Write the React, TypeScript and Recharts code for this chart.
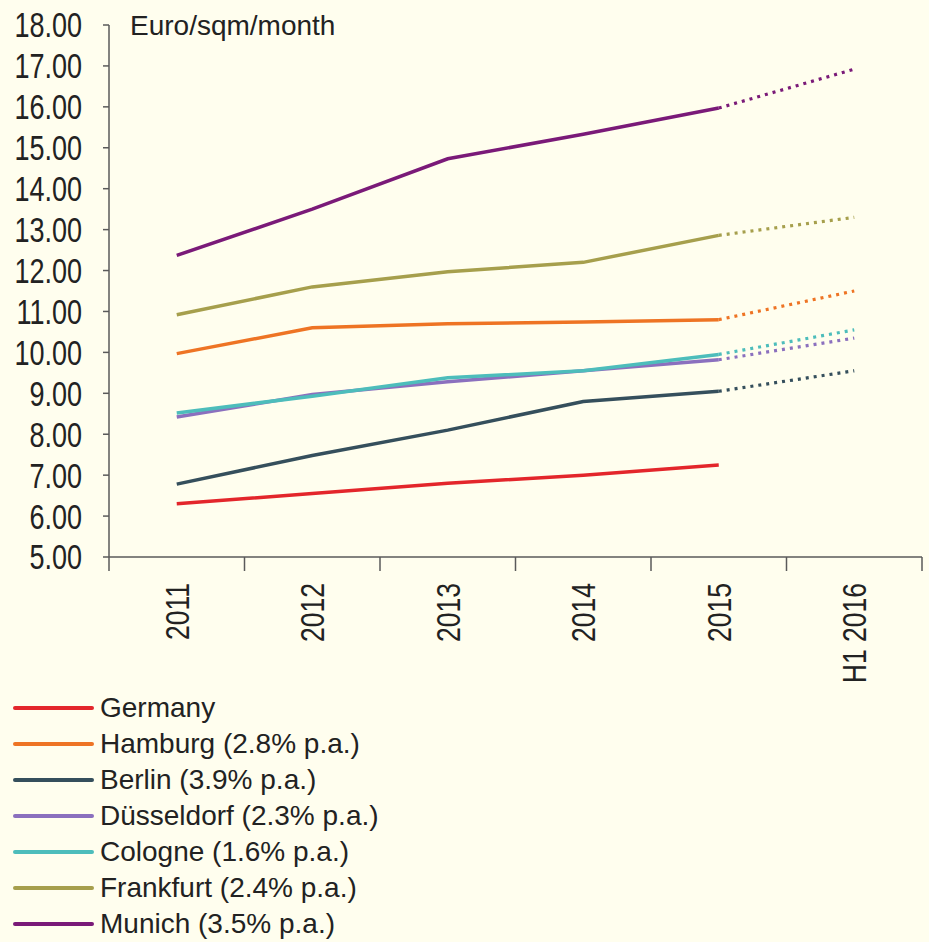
import { LineChart, Line, XAxis, YAxis, Legend, Label } from "recharts";

// Asking rents, euro per sqm per month
const categories = ["2011", "2012", "2013", "2014", "2015", "H1 2016"];
const germany = [6.3, 6.55, 6.8, 7.0, 7.25, null];
const hamburg = [9.97, 10.6, 10.7, 10.74, 10.8, 11.5];
const berlin = [6.78, 7.48, 8.1, 8.8, 9.05, 9.55];
const duesseldorf = [8.42, 8.97, 9.28, 9.55, 9.82, 10.35];
const cologne = [8.52, 8.93, 9.38, 9.55, 9.95, 10.55];
const frankfurt = [10.92, 11.6, 11.97, 12.2, 12.86, 13.3];
const munich = [12.37, 13.5, 14.73, 15.33, 15.97, 16.92];
const yTicks = [5, 6, 7, 8, 9, 10, 11, 12, 13, 14, 15, 16, 17, 18];

const series = [
  { key: "germany", name: "Germany", color: "#E3262B", values: germany },
  { key: "hamburg", name: "Hamburg (2.8% p.a.)", color: "#EE7424", values: hamburg },
  { key: "berlin", name: "Berlin (3.9% p.a.)", color: "#354F5C", values: berlin },
  { key: "duesseldorf", name: "Düsseldorf (2.3% p.a.)", color: "#8B70BE", values: duesseldorf },
  { key: "cologne", name: "Cologne (1.6% p.a.)", color: "#4DBDBB", values: cologne },
  { key: "frankfurt", name: "Frankfurt (2.4% p.a.)", color: "#A69F4C", values: frankfurt },
  { key: "munich", name: "Munich (3.5% p.a.)", color: "#7A1A78", values: munich },
];

// 2015 is the last full year; the step to H1 2016 is drawn dotted
const LAST_FULL = 4;

const rows = categories.map((cat, i) => {
  const row: Record<string, string | number | null> = { cat };
  series.forEach((s) => {
    const v = s.values[i];
    row[s.key] = i <= LAST_FULL ? v : null;
    row[s.key + "_h1"] = i >= LAST_FULL ? v : null;
  });
  return row;
});

const W = 929;
const H = 942;
const FONT = "'Liberation Sans', Arial, sans-serif";
const TEXT = "#222";
const AXIS = "#5a5a5a";
const Y_AXIS_W = 109;
const RIGHT = 7;
const HALF_BAND = (W - Y_AXIS_W - RIGHT) / categories.length / 2;
// axis numbers in the original are drawn tall and narrow
const STRETCH = 1.28;

function XTick(props: any) {
  const { x, y, payload, index } = props;
  const top = y - 26; // axis line
  return (
    <g>
      <line x1={x - HALF_BAND} x2={x - HALF_BAND} y1={top} y2={top + 14} stroke={AXIS} strokeWidth={1.5} />
      {index === categories.length - 1 && (
        <line x1={x + HALF_BAND} x2={x + HALF_BAND} y1={top} y2={top + 14} stroke={AXIS} strokeWidth={1.5} />
      )}
      <text
        x={0}
        y={0}
        dy="0.36em"
        textAnchor="end"
        transform={`translate(${x}, ${y}) rotate(-90) scale(1, ${STRETCH})`}
        fontSize={26.5}
        fontFamily={FONT}
        fill={TEXT}
      >
        {payload.value}
      </text>
    </g>
  );
}

function YTick(props: any) {
  const { x, y, payload } = props;
  return (
    <text
      x={0}
      y={0}
      dy="0.36em"
      textAnchor="end"
      transform={`translate(${x}, ${y}) scale(1, ${STRETCH})`}
      fontSize={27}
      fontFamily={FONT}
      fill={TEXT}
    >
      {Number(payload.value).toFixed(2)}
    </text>
  );
}

function LegendBox() {
  return (
    <div style={{ fontFamily: FONT, fontSize: 28, color: TEXT }}>
      {series.map((s) => (
        <div key={s.key} style={{ height: 36, display: "flex", alignItems: "center" }}>
          <svg width={86} height={10} style={{ marginLeft: 12 }}>
            <line x1={3} x2={80} y1={5} y2={5} stroke={s.color} strokeWidth={4} strokeLinecap="round" />
          </svg>
          <span style={{ marginLeft: 2, lineHeight: "36px" }}>{s.name}</span>
        </div>
      ))}
    </div>
  );
}

export default function App() {
  return (
    <div style={{ position: "absolute", left: 0, top: 0, width: W, height: H, background: "#FFFEEE" }}>
      <LineChart width={W} height={H} data={rows} margin={{ top: 25, right: RIGHT, left: 0, bottom: 0 }}>
        <XAxis
          dataKey="cat"
          scale="band"
          interval={0}
          height={133}
          tickSize={14}
          tickMargin={12}
          tickLine={false}
          axisLine={{ stroke: AXIS, strokeWidth: 1.5 }}
          tick={<XTick />}
        />
        <YAxis
          domain={[5, 18]}
          ticks={yTicks}
          width={Y_AXIS_W}
          tickSize={6}
          tickMargin={21}
          axisLine={{ stroke: AXIS, strokeWidth: 1.5 }}
          tickLine={{ stroke: AXIS, strokeWidth: 1.5 }}
          tick={<YTick />}
        >
          <Label
            content={(p: any) => (
              <text
                x={p.viewBox.x + p.viewBox.width + 21}
                y={p.viewBox.y}
                dy="0.36em"
                fontSize={28}
                fontFamily={FONT}
                fill={TEXT}
              >
                Euro/sqm/month
              </text>
            )}
          />
        </YAxis>
        <Legend
          verticalAlign="bottom"
          align="left"
          height={252}
          wrapperStyle={{ left: 0, width: 600 }}
          content={<LegendBox />}
        />
        {series.map((s) => (
          <Line
            key={s.key}
            dataKey={s.key}
            name={s.name}
            type="linear"
            stroke={s.color}
            strokeWidth={3.5}
            dot={false}
            activeDot={false}
            connectNulls={false}
            isAnimationActive={false}
          />
        ))}
        {series.map((s) => (
          <Line
            key={s.key + "_h1"}
            dataKey={s.key + "_h1"}
            legendType="none"
            type="linear"
            stroke={s.color}
            strokeWidth={3.2}
            strokeDasharray="3 5"
            dot={false}
            activeDot={false}
            connectNulls={false}
            isAnimationActive={false}
          />
        ))}
      </LineChart>
    </div>
  );
}
